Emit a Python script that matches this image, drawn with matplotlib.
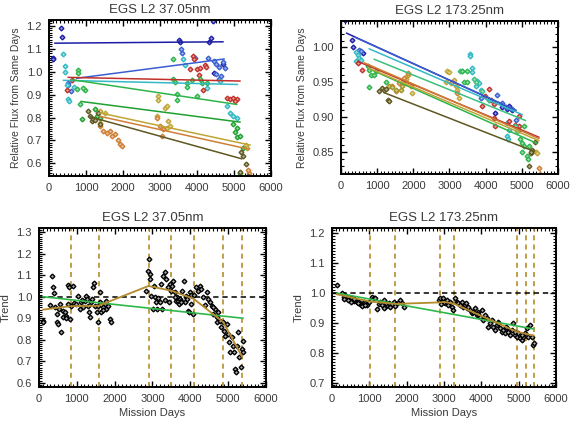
import numpy as np
import matplotlib
matplotlib.use('Agg')
from matplotlib import pyplot as plt, colors as mcolors
from matplotlib.ticker import MultipleLocator, FormatStrFormatter

plt.rcParams['font.family'] = ['Liberation Sans', 'DejaVu Sans']

days_ticks = [0, 1000, 2000, 3000, 4000, 5000, 6000]

# ---- top left: EGS L2 37.05nm, relative flux per group ----
tl_series = {
    'navy': dict(
        color='#1c1ca8',
        x=[100, 110, 320, 340, 3520, 3530, 4320, 4390, 4430, 4450, 4690],
        y=[1.06, 1.055, 1.19, 1.15, 1.14, 1.13, 1.13, 1.145, 1.22, 0.995, 1.035],
        fit=[(160, 4700), (1.124, 1.130)]),
    'blue': dict(
        color='#3a5ed0',
        x=[500, 520, 600, 3580, 3600, 3950, 4300, 4450, 4500, 4600, 4700,
           4750, 4520, 4600, 4650],
        y=[0.95, 0.94, 0.915, 1.10, 1.08, 1.06, 1.06, 1.045, 1.035, 1.02,
           1.04, 1.015, 0.99, 0.97, 0.98],
        fit=[(750, 4730), (0.971, 1.055)]),
    'cyan': dict(
        color='#33b9c4',
        x=[390, 430, 430, 480, 520, 550, 675, 3610, 3670, 4260, 4620, 4800,
           4890, 4980, 5090],
        y=[1.078, 1.026, 1.0, 0.94, 0.88, 0.87, 0.935, 1.055, 1.03, 0.93,
           0.958, 0.85, 0.82, 0.805, 0.80],
        fit=[(390, 5090), (0.962, 0.944)]),
    'red': dict(
        color='#c0302a',
        x=[480, 610, 3880, 3920, 3990, 4080, 3810, 4215, 4235, 4060, 4170,
           4800, 4890, 4980, 5090, 5030],
        y=[0.92, 0.965, 1.067, 1.055, 1.01, 1.015, 1.011, 1.03, 1.02, 0.985,
           0.92, 0.885, 0.88, 0.885, 0.882, 0.87],
        fit=[(520, 5160), (0.975, 0.959)]),
    'green': dict(
        color='#2db44a',
        x=[790, 790, 750, 840, 970, 930, 3360, 3360, 3400, 3450, 3450, 3720,
           3720, 3860, 3990, 4080, 4130, 4260],
        y=[1.008, 0.993, 0.925, 0.857, 0.922, 0.93, 1.055, 0.968, 0.953,
           0.904, 0.878, 0.95, 0.933, 0.965, 0.893, 0.968, 0.95, 0.95],
        fit=[(612, 5072), (0.965, 0.857)]),
    'green2': dict(
        color='#1fa030',
        x=[880, 1240, 1290, 1380, 4980, 5070, 5030, 5090, 5160, 5250, 5150],
        y=[0.794, 0.835, 0.806, 0.80, 0.77, 0.755, 0.735, 0.716, 0.72, 0.668,
           0.56],
        fit=[(865, 5160), (0.870, 0.780)]),
    'gold': dict(
        color='#bfa535',
        x=[1380, 1380, 2950, 2950, 3130, 3180, 2910, 3220, 3270, 3180, 5320,
           5340, 1500],
        y=[0.827, 0.777, 0.893, 0.878, 0.842, 0.852, 0.806, 0.784, 0.762,
           0.755, 0.68, 0.668, 0.82],
        fit=[(1378, 5432), (0.82, 0.68)]),
    'orange': dict(
        color='#cf7f35',
        x=[1380, 1470, 1560, 1650, 1690, 1780, 1870, 1920, 1960, 2910, 3000,
           3090, 3040, 5410, 5380],
        y=[0.762, 0.74, 0.733, 0.74, 0.719, 0.726, 0.704, 0.683, 0.675, 0.80,
           0.762, 0.748, 0.719, 0.559, 0.572],
        fit=[(1380, 5400), (0.805, 0.662)]),
    'olive': dict(
        color='#5e5720',
        x=[1060, 1110, 1150, 1200, 1330, 1380, 1250, 5200, 5250, 5320, 5160,
           5390],
        y=[0.827, 0.806, 0.784, 0.794, 0.82, 0.77, 0.79, 0.65, 0.632, 0.596,
           0.562, 0.545],
        fit=[(1108, 5207), (0.803, 0.62)]),
}

# ---- top right: EGS L2 173.25nm ----
tr_series = {
    'navy': dict(
        color='#1c1ca8',
        x=[120, 300, 320, 615, 4270, 4460, 4600, 4730, 4640],
        y=[1.039, 1.011, 1.0, 0.992, 0.906, 0.914, 0.911, 0.91, 0.916],
        fit=[(156, 4779), (1.0205, 0.9107)]),
    'blue': dict(
        color='#3a5ed0',
        x=[490, 550, 3860, 4090, 4320, 4460, 4550, 4730, 4830],
        y=[0.997, 0.995, 0.927, 0.924, 0.931, 0.92, 0.915, 0.911, 0.896],
        fit=[(414, 4843), (1.014, 0.9097)]),
    'cyan': dict(
        color='#33b9c4',
        x=[410, 460, 505, 410, 550, 3580, 3580, 3630, 3630, 3770, 3810,
           3720, 3860, 4600, 4640, 4600, 4620],
        y=[0.994, 0.989, 0.985, 0.98, 0.982, 0.991, 0.987, 0.97, 0.964,
           0.952, 0.949, 0.944, 0.939, 0.891, 0.882, 0.872, 0.869],
        fit=[(781, 5009), (0.998, 0.9035)]),
    'red': dict(
        color='#c0302a',
        x=[460, 580, 3900, 3990, 4090, 4230, 4140, 4230, 4270, 4640, 4820,
           4920, 4920, 4920],
        y=[0.977, 0.967, 0.916, 0.93, 0.94, 0.918, 0.925, 0.899, 0.887,
           0.894, 0.889, 0.887, 0.882, 0.901],
        fit=[(460, 5470), (0.98, 0.871)]),
    'seagreen': dict(
        color='#3cbf7e',
        x=[3680, 3720, 3900, 4090, 4820, 4870, 3300, 3350],
        y=[0.954, 0.95, 0.938, 0.925, 0.887, 0.88, 0.966, 0.966],
        fit=[(919, 5100), (0.983, 0.895)]),
    'green': dict(
        color='#2db44a',
        x=[780, 830, 920, 735, 780, 965, 1240, 3350, 3400, 3490, 3490, 5050,
           4960, 5010, 5050, 5010, 5150, 5170, 5190],
        y=[0.943, 0.961, 0.961, 0.973, 0.968, 0.966, 0.951, 0.966, 0.95,
           0.95, 0.966, 0.887, 0.868, 0.863, 0.858, 0.849, 0.844, 0.839,
           0.858],
        fit=[(830, 5420), (0.968, 0.862)]),
    'gold': dict(
        color='#bfa535',
        x=[2940, 2990, 3030, 3120, 3170, 3220, 3260, 2890, 5380, 5420, 1790,
           1790, 1840, 1960],
        y=[0.966, 0.964, 0.949, 0.953, 0.944, 0.939, 0.927, 0.95, 0.849,
           0.848, 0.958, 0.954, 0.961, 0.935],
        fit=[(780, 5470), (0.970, 0.866)]),
    'orange': dict(
        color='#cf7f35',
        x=[1420, 1510, 1610, 1700, 1750, 1840, 1930, 3080, 3220, 5470, 5510],
        y=[0.944, 0.937, 0.949, 0.951, 0.956, 0.963, 0.945, 0.951, 0.935,
           0.826, 0.818],
        fit=[(640, 5470), (0.978, 0.869)]),
    'khaki': dict(
        color='#a39224',
        x=[1330, 1420, 1510, 1650, 1700, 1790],
        y=[0.945, 0.943, 0.939, 0.939, 0.944, 0.949],
        fit=None),
    'olive': dict(
        color='#5e5720',
        x=[1060, 1130, 1190, 1240, 1310, 1330, 5240, 5280, 5360, 5190, 5240],
        y=[0.938, 0.942, 0.939, 0.94, 0.925, 0.923, 0.848, 0.853, 0.864,
           0.829, 0.85],
        fit=[(1190, 5320), (0.935, 0.851)]),
}

# ---- bottom left: trend 37.05nm ----
bl_x = [106, 106, 282, 353, 370, 388, 415, 476, 476, 503, 529, 547, 591,
        635, 635, 679, 706, 723, 767, 767, 794, 829, 838, 900, 917, 1032,
        1076, 1120, 1164, 1208, 1235, 1270, 1296, 1323, 1340, 1385, 1430,
        1446, 1473, 1535, 1552, 1570, 1605, 1650, 1693, 1738, 1764, 1782,
        1826, 1870, 1914, 980, 1150, 1400, 1620, 1700,
        2840, 2884, 2911, 2928, 2946, 2972, 3016, 3034, 3060, 3105, 3122,
        3193, 3237, 3263, 3281, 3325, 3369, 3413, 3440, 3475, 3502, 3528,
        3546, 3590, 3616, 3652, 3678, 3704, 3722, 3766, 3793, 3828, 3854,
        3881, 3898, 3943, 3969, 3987, 4013, 4031, 4075, 4101, 4163, 4207,
        4251, 4295, 4340, 4428, 4472, 4516, 4560, 4604, 4648, 4692, 4736,
        4780, 4824, 4851, 4886, 4913, 4957, 5001, 5027, 5045, 5089, 5133,
        5160, 5177, 5204, 5239, 5265, 5292, 5328, 5354, 5381, 5398,
        3150, 3330, 3600, 3750, 3920, 4400, 4600, 4700]
bl_y = [0.889, 0.881, 0.963, 1.098, 1.044, 1.016, 0.951, 0.920, 0.881,
        0.873, 0.943, 0.966, 0.837, 0.904, 0.935, 0.927, 0.912, 0.900,
        0.966, 1.056, 1.044, 0.896, 0.959, 1.052, 0.969, 1.002, 0.943,
        0.974, 0.951, 0.982, 1.005, 0.990, 0.959, 0.927, 0.904, 0.974,
        1.044, 1.064, 0.959, 0.927, 0.881, 0.959, 0.974, 0.930, 0.951,
        0.966, 0.943, 0.982, 0.959, 0.896, 0.884, 0.965, 0.985, 0.990,
        1.020, 0.940,
        1.028, 1.122, 1.176, 1.106, 1.083, 1.005, 0.943, 1.052, 0.997,
        0.974, 0.943, 0.974, 1.059, 0.943, 1.098, 1.114, 1.083, 1.044,
        0.974, 1.059, 1.028, 1.052, 1.075, 1.021, 0.982, 0.997, 0.982,
        0.966, 0.990, 0.982, 1.028, 1.075, 0.974, 0.997, 1.005, 0.935,
        0.927, 1.021, 1.008, 0.966, 0.920, 1.008, 1.044, 1.028, 1.052,
        1.036, 0.997, 1.021, 0.990, 0.974, 0.959, 0.920, 0.943, 0.881,
        0.927, 0.889, 0.858, 0.881, 0.842, 0.819, 0.873, 0.827, 0.788,
        0.741, 0.811, 0.772, 0.741, 0.664, 0.648, 0.772, 0.834, 0.718,
        0.671, 0.757, 0.796, 0.741,
        0.995, 0.985, 1.000, 0.975, 0.990, 0.960, 0.950, 0.905]
bl_knot_x = [106, 838, 1570, 2893, 3502, 4092, 4869, 5371]
bl_knot_y = [0.940, 0.956, 0.958, 1.050, 1.028, 0.990, 0.882, 0.720]
bl_lin_x = [106, 5390]
bl_lin_y = [1.000, 0.900]
bl_breaks = [850, 1580, 2900, 3500, 4100, 4870, 5370]

# ---- bottom right: trend 173.25nm ----
br_x = [134, 267, 312, 357, 401, 446, 490, 535, 579, 624, 669, 713, 758,
        802, 847, 891, 936, 1070, 1114, 1159, 1204, 1248, 1293, 1337, 1382,
        1426, 1471, 1515, 1560, 1605, 1649, 1721, 1783, 1828, 1872, 1917,
        330, 420, 520, 600, 700, 800, 880, 1000, 1380, 1450, 1700,
        2853, 2897, 2942, 2986, 3031, 3076, 3165, 3209, 3254, 3299, 3343,
        3388, 3432, 3477, 3521, 3566, 3611, 3655, 3700, 3744, 3789, 3834,
        3878, 3923, 3967, 4012, 4056, 4145, 4190, 4235, 4279, 4324, 4368,
        4413, 4457, 4502, 4547, 4591, 4636, 4681, 4725, 4770, 4814, 4859,
        4903, 4948, 4992, 5037, 5081, 5126, 5171, 5215, 5260, 5304, 5349,
        5376, 5411, 2920, 3000, 3120, 3600, 3900, 4100, 4450, 4650, 4900,
        5100]
br_y = [1.027, 0.999, 0.987, 0.993, 0.984, 0.987, 0.979, 0.982, 0.973,
        0.976, 0.968, 0.971, 0.962, 0.960, 0.968, 0.965, 0.960, 0.985,
        0.982, 0.984, 0.946, 0.962, 0.971, 0.960, 0.976, 0.954, 0.960,
        0.965, 0.954, 0.962, 0.971, 0.963, 0.971, 0.976, 0.965, 0.954,
        0.980, 0.975, 0.970, 0.978, 0.966, 0.955, 0.958, 0.970, 0.950,
        0.966, 0.957,
        0.976, 0.982, 0.971, 0.982, 0.965, 0.976, 0.971, 0.954, 0.943,
        0.982, 0.971, 0.965, 0.960, 0.971, 0.954, 0.960, 0.948, 0.954,
        0.943, 0.932, 0.937, 0.948, 0.926, 0.937, 0.920, 0.943, 0.909,
        0.915, 0.887, 0.898, 0.909, 0.887, 0.876, 0.892, 0.904, 0.881,
        0.870, 0.876, 0.864, 0.881, 0.870, 0.859, 0.876, 0.898, 0.859,
        0.853, 0.864, 0.848, 0.842, 0.853, 0.864, 0.881, 0.853, 0.892,
        0.853, 0.825, 0.831, 0.962, 0.970, 0.958, 0.965, 0.930, 0.925,
        0.900, 0.885, 0.870, 0.860]
br_knot_x = [134, 1007, 1694, 2897, 3000, 3281, 4948, 5188, 5402]
br_knot_y = [0.995, 0.971, 0.963, 0.968, 0.970, 0.963, 0.870, 0.863, 0.857]
br_lin_x = [134, 5402]
br_lin_y = [0.999, 0.879]
br_breaks = [1007, 1694, 2897, 3281, 4948, 5188, 5402]

text_col = '#3a3a3a'
brk_col = '#b58f2e'
trend_col = '#b38a2c'
fit_col = '#2eb84a'

mk = dict(marker='D', ls='none', ms=2.4, mew=1.0)


def light(c, f=0.55):
    r, g, b = mcolors.to_rgb(c)
    return (r + (1 - r) * f, g + (1 - g) * f, b + (1 - b) * f)


def style_axes(ax, ylim, ymaj, ymin, yfmt, title):
    ax.set_xlim(0, 6000)
    ax.set_ylim(*ylim)
    ax.set_xticks(days_ticks)
    ax.xaxis.set_minor_locator(MultipleLocator(100))
    ax.yaxis.set_major_locator(MultipleLocator(ymaj))
    ax.yaxis.set_minor_locator(MultipleLocator(ymin))
    ax.yaxis.set_major_formatter(FormatStrFormatter(yfmt))
    ax.tick_params(which='both', direction='in', top=True, right=True,
                   labelsize=8, labelcolor=text_col, pad=5)
    ax.tick_params(which='major', length=4, width=1)
    ax.tick_params(which='minor', length=2, width=0.8)
    for sp in ax.spines.values():
        sp.set_linewidth(1.4)
    ax.set_title(title, fontsize=9.5, color=text_col, pad=5)


fig = plt.figure(figsize=(5.74, 4.24), dpi=100)

ax1 = fig.add_axes([0.0854, 0.5849, 0.3868, 0.3679])
for s in tl_series.values():
    ax1.plot(s['x'], s['y'], mec=s['color'], mfc=light(s['color']), **mk)
for s in tl_series.values():
    if s['fit']:
        ax1.plot(s['fit'][0], s['fit'][1], '-', color=s['color'], lw=1.1)
style_axes(ax1, (0.545, 1.225), 0.1, 0.01, '%.1f', 'EGS L2 37.05nm')
ax1.set_ylabel('Relative Flux from Same Days', fontsize=7.5, color=text_col,
               labelpad=4)

ax2 = fig.add_axes([0.5941, 0.5896, 0.378, 0.3608])
for s in tr_series.values():
    ax2.plot(s['x'], s['y'], mec=s['color'], mfc=light(s['color']), **mk)
for s in tr_series.values():
    if s['fit']:
        ax2.plot(s['fit'][0], s['fit'][1], '-', color=s['color'], lw=1.1)
style_axes(ax2, (0.818, 1.038), 0.05, 0.01, '%.2f', 'EGS L2 173.25nm')
ax2.set_ylabel('Relative Flux from Same Days', fontsize=7.5, color=text_col,
               labelpad=4)

ax3 = fig.add_axes([0.0679, 0.0873, 0.3955, 0.375])
for b in bl_breaks:
    ax3.axvline(b, color=brk_col, ls=(0, (3, 2.5)), lw=1.2)
ax3.axhline(1.0, color='black', ls=(0, (3.5, 2.5)), lw=1.1)
ax3.plot(bl_x, bl_y, mec='black', mfc='#b0b0b0', **mk)
ax3.plot(bl_lin_x, bl_lin_y, '-', color=fit_col, lw=1.2)
ax3.plot(bl_knot_x, bl_knot_y, '-', color=trend_col, lw=1.3)
style_axes(ax3, (0.58, 1.32), 0.1, 0.01, '%.1f', 'EGS L2 37.05nm')
ax3.set_ylabel('Trend', fontsize=8, color=text_col, labelpad=4)
ax3.set_xlabel('Mission Days', fontsize=8, color=text_col, labelpad=3)

ax4 = fig.add_axes([0.5784, 0.0873, 0.3902, 0.375])
for b in br_breaks:
    ax4.axvline(b, color=brk_col, ls=(0, (3, 2.5)), lw=1.2)
ax4.axhline(1.0, color='black', ls=(0, (3.5, 2.5)), lw=1.1)
ax4.plot(br_x, br_y, mec='black', mfc='#b0b0b0', **mk)
ax4.plot(br_lin_x, br_lin_y, '-', color=fit_col, lw=1.2)
ax4.plot(br_knot_x, br_knot_y, '-', color=trend_col, lw=1.3)
style_axes(ax4, (0.685, 1.217), 0.1, 0.01, '%.1f', 'EGS L2 173.25nm')
ax4.set_ylabel('Trend', fontsize=8, color=text_col, labelpad=4)
ax4.set_xlabel('Mission Days', fontsize=8, color=text_col, labelpad=3)

fig.savefig('out.png', dpi=100)
